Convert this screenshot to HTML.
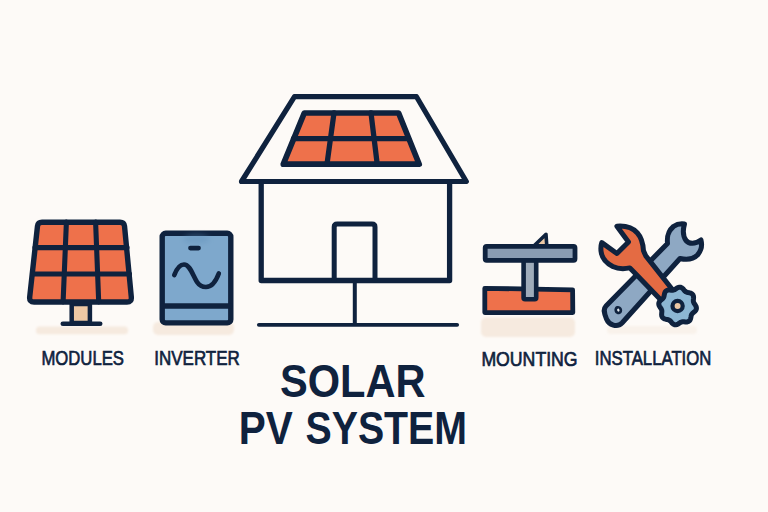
<!DOCTYPE html>
<html><head><meta charset="utf-8">
<style>
html,body{margin:0;padding:0;background:#fdfaf7;}
body{width:768px;height:512px;overflow:hidden;position:relative;}
svg{position:absolute;left:0;top:0;}
text{font-family:"Liberation Sans",sans-serif;fill:#0f223e;}
.lbl{font-size:21px;stroke:#0f223e;stroke-width:0.7px;}
.ttl{font-size:47px;font-weight:bold;}
</style></head><body>
<svg width="768" height="512" viewBox="0 0 768 512">
<defs><filter id="bl2" x="-50%" y="-100%" width="200%" height="300%"><feGaussianBlur stdDeviation="2.5"/></filter><filter id="bl" x="-20%" y="-50%" width="140%" height="200%"><feGaussianBlur stdDeviation="1.2"/></filter></defs>
<g fill="none" stroke="#0f223e" stroke-width="5" stroke-linejoin="round" stroke-linecap="round">
<!-- shadows -->
<g stroke="none" fill="#f6eadf" filter="url(#bl)">
<rect x="36" y="326.500" width="92" height="7.800" rx="3.500"/>
<rect x="153" y="322" width="81" height="13" rx="5"/>
<rect x="481" y="317.500" width="94" height="19.500" rx="5"/>
<rect x="607" y="326" width="90" height="8" rx="4" fill="#f9f2eb"/>
</g>
<!-- MODULES -->
<g id="modules">
<rect x="71.7" y="304" width="18.2" height="19" fill="#edc8a4" stroke-width="4.5"/>
<line x1="62.8" y1="323.8" x2="100.2" y2="323.8" stroke-width="4.6"/>
<path d="M42,222.2 H120 Q124,222.2 124.500,226 L131.300,297 Q131.800,302 127,302 H34 Q29.200,302 29.700,297 L37.500,226 Q38,222.2 42,222.2 Z" fill="#ee714b" stroke-width="5.4"/>
<path d="M35,247.600 H127 M32.500,274 H129.500 M66.400,222 L63.100,302 M95.600,222 L98.700,302" stroke-width="5.1"/>
</g>
<!-- INVERTER -->
<g id="inverter">
<rect x="162.200" y="233.300" width="68.600" height="89.600" rx="3.500" fill="#7ea8cc" stroke-width="5.4"/>
<ellipse cx="196.500" cy="239" rx="13" ry="5" fill="#5f8fb8" stroke="none" opacity="0.35" filter="url(#bl2)"/>
<line x1="163" y1="306" x2="230" y2="306" stroke-width="5.6"/>
<line x1="190.4" y1="248.1" x2="198.6" y2="248.1" stroke-width="4.6"/>
<path d="M174.300,275 C177,268 180,264.500 184,264.500 C190,264.500 193,276 197,282 C200,286.500 203,287 206,287 C212,287 216,281 218.800,273.500" stroke-width="4.7"/>
</g>
<!-- HOUSE -->
<g id="house">
<path d="M294.500,96.700 H416.500 L466.300,181.500 H241.500 Z" fill="#fdfaf7" stroke-width="5.2"/>
<path d="M261.200,183 V280.500 H449.600 V183" stroke-width="5.3"/>
<path d="M334.200,280 V227 Q334.200,224 337.200,224 H372 Q375,224 375,227 V280"/>
<line x1="354.800" y1="282" x2="354.800" y2="324" stroke-width="4"/>
<line x1="258.800" y1="324.800" x2="457.200" y2="324.800" stroke-width="3.7"/>
<path d="M304.300,113 H398.600 L419.200,164.200 H283.300 Z" fill="#ee714b" stroke-width="5.7"/>
<path d="M293.500,138.600 H408.500 M334,113 L327,164 M371,113 L377.200,164" stroke-width="5.3"/>
</g>
<!-- MOUNTING -->
<g id="mounting">
<path d="M533.800,246 L546,234.300 L546.800,246 Z" fill="#edc8a4" stroke-width="3.6"/>
<path d="M484.800,288.300 L572.600,289.800 L572.800,312.600 L484.800,312.600 Z" fill="#ee714b" stroke-width="4.8"/>
<rect x="523.600" y="260" width="12.600" height="39.300" rx="1.500" fill="#9eabba" stroke-width="4.6"/>
<rect x="485.200" y="246.300" width="89.800" height="14" rx="1.500" fill="#8a9cb2" stroke-width="4.8"/>
</g>
<!-- INSTALLATION -->
<g id="install">
<path d="M606,306 L667.5,243.5 C667,238 667,232 673.4,226.5 C677,224 681,223.500 684.500,224 C682.500,231 683.500,237 686,240.500 C689,244 695,244.500 701,240 C702.500,246 701,251 697.500,255 C693,259.500 686,260 680,258.500 L622,323 C617,328 609,325 606.500,319 C604,313 603,309 606,306 Z" fill="#8ea8c3"/>
<ellipse cx="618.3" cy="310.1" rx="2.5" ry="2.9" transform="rotate(-20 618.3 310.1)" fill="#e8edf2" stroke-width="2.7"/>
<path d="M616.9,226.2 C626,225.500 633,228 637.400,233 C641,237 643,243 643.500,250.800 L645.600,255.600 L674.9,292.7 L665.7,305 L634.600,272.700 L629.900,267.900 C622,269.500 617,268.500 612.800,266.500 C606,263 602,258 601.200,252.200 C600.500,248 601,245 601.800,242.600 L616.900,253.500 L628.500,241.900 Z" fill="#e46b43"/>
<path d="M695.87,306.00 L696.36,307.31 L696.42,308.64 L695.99,309.91 L695.16,311.04 L694.10,312.01 L693.04,312.87 L692.15,313.74 L691.53,314.71 L691.16,315.85 L690.92,317.18 L690.62,318.57 L690.11,319.89 L689.29,320.96 L688.16,321.66 L686.81,321.96 L685.38,321.95 L683.99,321.81 L682.71,321.74 L681.57,321.92 L680.49,322.40 L679.40,323.12 L678.23,323.91 L676.95,324.56 L675.62,324.85 L674.31,324.66 L673.11,324.02 L672.06,323.05 L671.15,321.96 L670.30,320.96 L669.40,320.21 L668.34,319.72 L667.10,319.44 L665.73,319.19 L664.34,318.80 L663.13,318.14 L662.24,317.16 L661.75,315.91 L661.62,314.50 L661.72,313.07 L661.85,311.73 L661.81,310.53 L661.48,309.43 L660.86,308.35 L660.08,307.23 L659.33,306.00 L658.84,304.69 L658.78,303.36 L659.21,302.09 L660.04,300.96 L661.10,299.99 L662.16,299.13 L663.05,298.26 L663.67,297.29 L664.04,296.15 L664.28,294.82 L664.58,293.43 L665.09,292.11 L665.91,291.04 L667.04,290.34 L668.39,290.04 L669.82,290.05 L671.21,290.19 L672.49,290.26 L673.63,290.08 L674.71,289.60 L675.80,288.88 L676.97,288.09 L678.25,287.44 L679.58,287.15 L680.89,287.34 L682.09,287.98 L683.14,288.95 L684.05,290.04 L684.90,291.04 L685.80,291.79 L686.86,292.28 L688.10,292.56 L689.47,292.81 L690.86,293.20 L692.07,293.86 L692.96,294.84 L693.45,296.09 L693.58,297.50 L693.48,298.93 L693.35,300.27 L693.39,301.47 L693.72,302.57 L694.34,303.65 L695.12,304.77 Z" fill="#8cb6d3"/>
<circle cx="677.6" cy="306" r="5.1" fill="#edc8a4" stroke-width="4.2"/>
</g>
</g>
<text class="lbl" x="41.400" y="365" textLength="82.600" lengthAdjust="spacingAndGlyphs">MODULES</text>
<text class="lbl" x="154.300" y="365.400" textLength="85.500" lengthAdjust="spacingAndGlyphs">INVERTER</text>
<text class="lbl" x="481.400" y="365.500" textLength="96.200" lengthAdjust="spacingAndGlyphs">MOUNTING</text>
<text class="lbl" x="594.800" y="364.500" textLength="116.600" lengthAdjust="spacingAndGlyphs">INSTALLATION</text>
<text class="ttl" x="280" y="397.400" textLength="145.600" lengthAdjust="spacingAndGlyphs">SOLAR</text>
<text class="ttl" x="238.800" y="444.400" textLength="54" lengthAdjust="spacingAndGlyphs">PV</text>
<text class="ttl" x="305.500" y="444.400" textLength="161.500" lengthAdjust="spacingAndGlyphs">SYSTEM</text>
</svg>
</body></html>
